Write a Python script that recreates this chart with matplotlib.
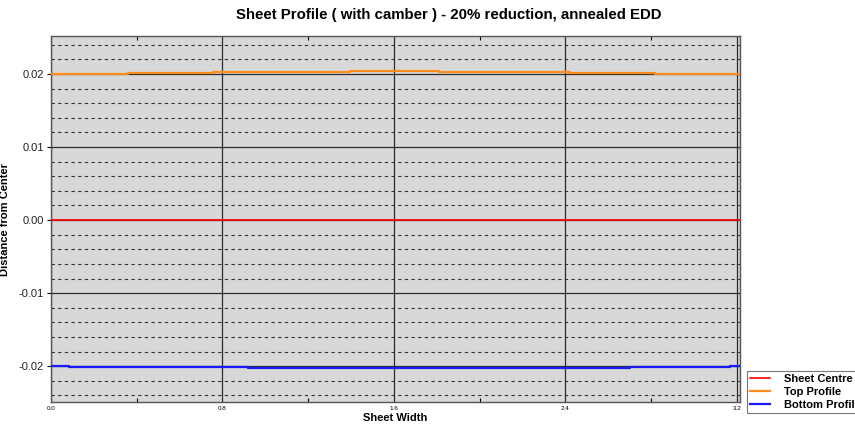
import numpy as np
import matplotlib.pyplot as plt
from matplotlib.ticker import MultipleLocator, FormatStrFormatter

# step profile: x edges (start of each step) and level of each step
top_x = [0.0, 0.36, 0.756, 1.394, 1.809, 2.42, 2.816, 3.214]
top_y = [0.0200, 0.0201, 0.0203, 0.0204, 0.0203, 0.0201, 0.0200, 0.0200]

bot_x = [0.0, 0.084, 0.49, 0.918, 2.27, 2.70, 3.166, 3.214]
bot_y = [-0.0200, -0.0201, -0.02015, -0.0203, -0.02025, -0.0201, -0.0200, -0.0200]

centre_x = [0.0, 3.214]
centre_y = [0.0, 0.0]

xticks = [0.0, 0.8, 1.6, 2.4, 3.2]
yticks = [-0.02, -0.01, 0.0, 0.01, 0.02]

plt.rcParams['font.family'] = ['Liberation Sans', 'DejaVu Sans']

fig = plt.figure(figsize=(8.55, 4.28), dpi=100)
ax = fig.add_axes([51 / 855, 1 - 402 / 428, (740 - 51) / 855, (402 - 36) / 428])
ax.set_facecolor('#d8d8d8')

ax.plot(centre_x, centre_y, color='#ff0000', lw=1.2, label='Sheet Centre', zorder=3)
ax.plot(top_x, top_y, color='#ff8c1a', lw=1.6, drawstyle='steps-post', label='Top Profile', zorder=3)
ax.plot(bot_x, bot_y, color='#1a1aff', lw=1.6, drawstyle='steps-post', label='Bottom Profile', zorder=3)

ax.set_xlim(0, 3.214)
ax.set_ylim(-0.0249, 0.0252)
ax.set_xticks(xticks)
ax.set_yticks(yticks)
ax.xaxis.set_minor_locator(MultipleLocator(0.4))
ax.yaxis.set_minor_locator(MultipleLocator(0.002))
ax.xaxis.set_major_formatter(FormatStrFormatter('%.1f'))
ax.yaxis.set_major_formatter(FormatStrFormatter('%.2f'))

ax.grid(True, which='major', color='#2a2a2a', lw=0.9, ls='-')
ax.grid(True, which='minor', axis='y', color='#333333', lw=0.8, ls=(0, (3, 3)))
ax.set_axisbelow(True)

ax.tick_params(axis='x', which='major', labelsize=4.5, length=0, pad=3)
ax.tick_params(axis='x', which='minor', direction='in', top=True, length=3, width=0.8)
ax.tick_params(axis='y', which='major', labelsize=8, length=3, pad=2, labelcolor='#222222')
ax.tick_params(axis='y', which='minor', length=0)
for s in ax.spines.values():
    s.set_color('#555555')
    s.set_linewidth(1.0)

ax.set_xlabel('Sheet Width', fontsize=8, fontweight='bold', labelpad=1)
ax.set_ylabel('Distance from Center', fontsize=8, fontweight='bold', labelpad=6)
fig.suptitle('Sheet Profile ( with camber ) - 20% reduction, annealed EDD',
             x=449 / 855, y=1 - 15 / 428, va='center', fontsize=10.8, fontweight='bold')

leg = fig.legend(loc='upper left', bbox_to_anchor=(747 / 855, 1 - 371 / 428),
                 prop={'size': 8, 'weight': 'bold'}, frameon=True, fancybox=False,
                 handlelength=1.8, handletextpad=1.2, borderpad=0.3, labelspacing=0.25,
                 borderaxespad=0)
leg.get_frame().set_edgecolor('#555555')
leg.get_frame().set_linewidth(0.8)

fig.savefig('out.png', dpi=100)
